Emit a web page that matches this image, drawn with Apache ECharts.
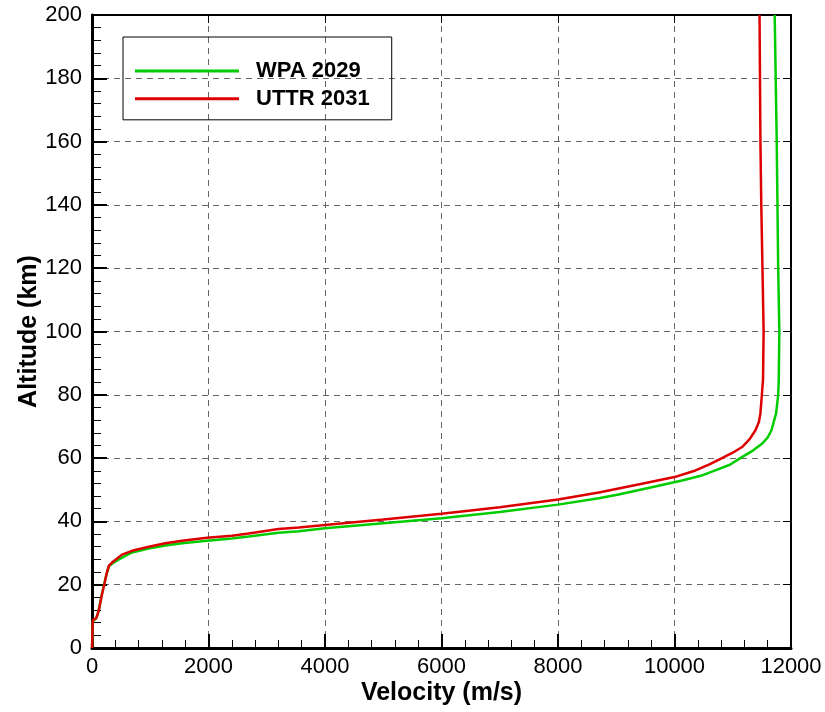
<!DOCTYPE html>
<html>
<head>
    <title>Velocity vs Altitude</title>
    <script src="https://cdn.jsdelivr.net/npm/echarts@6.0.0/dist/echarts.min.js"></script>
    <style>
        body { margin: 0; background: #fff; }
        #chart { width: 825px; height: 712px; }
    </style>
</head>
<body>
    <div id="chart"></div>
    <script>
        // velocity (m/s), altitude (km)
        const wpaVel = [0, 15, 70, 110, 170, 210, 250, 290, 343, 460, 687, 973, 1260, 1545, 1975, 2400, 2690, 3200, 3550, 4000, 5000, 6000, 7000, 8000, 8700, 9040, 9610, 10130, 10450, 10700, 10950, 11130, 11330, 11500, 11600, 11665, 11745, 11780, 11790, 11800, 11780, 11755, 11720];
        const wpaAlt = [0, 8.5, 9.3, 11.5, 17, 20.2, 23.4, 25.8, 26.6, 28.0, 30.2, 31.4, 32.4, 33.1, 33.9, 34.6, 35.2, 36.4, 36.9, 37.8, 39.4, 41.0, 43.0, 45.3, 47.3, 48.5, 50.8, 52.9, 54.4, 56.1, 57.9, 60, 62.2, 64.5, 66.5, 68.8, 74.2, 80, 85, 100, 120, 160, 200];

        const uttrVel = [0, 15, 75, 115, 172, 212, 250, 290, 343, 515, 687, 973, 1260, 1545, 1975, 2400, 2690, 3200, 3550, 4000, 5000, 6000, 7000, 8000, 8700, 9040, 9440, 10000, 10360, 10600, 10815, 11000, 11160, 11290, 11390, 11450, 11475, 11500, 11520, 11530, 11510, 11490, 11475, 11460];
        const uttrAlt = [0, 8.8, 9.5, 11.7, 17, 20.2, 23.4, 26.0, 27.0, 29.5, 30.7, 32.0, 33.1, 33.9, 34.8, 35.5, 36.2, 37.6, 38.1, 38.9, 40.6, 42.4, 44.5, 46.9, 49.1, 50.4, 51.9, 54, 56.1, 58.0, 60, 61.7, 63.5, 66.0, 68.8, 71.5, 74.2, 80, 85, 100, 120, 140, 160, 200];

        const xTicks = { min: 0, max: 12000, step: 2000 };
        const yTicks = { min: 0, max: 200, step: 20 };

        const font = "'Liberation Sans', Arial, sans-serif";
        const zip = (a, b) => a.map((v, i) => [v, b[i]]);
        const plain = v => String(v);

        const chart = echarts.init(document.getElementById('chart'));

        const dashGrid = { show: true, lineStyle: { color: '#666', type: [6, 5], width: 1 } };
        const nameStyle = { fontFamily: font, fontSize: 25, fontWeight: 'bold', color: '#000' };
        const labelStyle = { fontFamily: font, fontSize: 22, color: '#000', formatter: plain };

        chart.setOption({
            animation: false,
            backgroundColor: '#fff',
            grid: { left: 92, right: 34, top: 15, bottom: 64, outerBoundsMode: 'none', containLabel: false },
            legend: {
                orient: 'vertical',
                left: 123, top: 37,
                padding: [15, 22, 2, 12],
                icon: 'rect',
                itemWidth: 104, itemHeight: 3, itemGap: -10,
                borderColor: '#000', borderWidth: 1,
                textStyle: { fontFamily: font, fontSize: 22, fontWeight: 'bold', color: '#000', padding: [0, 0, 0, 12] },
                data: ['WPA 2029', 'UTTR 2031']
            },
            xAxis: [{
                type: 'value', min: xTicks.min, max: xTicks.max, interval: xTicks.step,
                name: 'Velocity (m/s)', nameLocation: 'middle', nameGap: 24, nameMoveOverlap: false,
                nameTextStyle: nameStyle,
                axisLine: { onZero: false, lineStyle: { color: '#000', width: 3 } },
                axisTick: { inside: true, length: 14, lineStyle: { color: '#000', width: 2 } },
                minorTick: { show: true, splitNumber: 5, length: 8, lineStyle: { color: '#000', width: 1 } },
                axisLabel: Object.assign({ margin: 0 }, labelStyle),
                splitLine: dashGrid
            }, {
                type: 'value', position: 'top', min: xTicks.min, max: xTicks.max, interval: xTicks.step,
                axisLine: { onZero: false, lineStyle: { color: '#000', width: 2 } },
                axisTick: { inside: true, length: 8, lineStyle: { color: '#000', width: 1 } },
                axisLabel: { show: false },
                splitLine: { show: false }
            }],
            yAxis: [{
                type: 'value', min: yTicks.min, max: yTicks.max, interval: yTicks.step,
                name: 'Altitude (km)', nameLocation: 'middle', nameGap: 41, nameMoveOverlap: false,
                nameTextStyle: nameStyle,
                axisLine: { onZero: false, lineStyle: { color: '#000', width: 3 } },
                axisTick: { inside: true, length: 15, lineStyle: { color: '#000', width: 2 } },
                minorTick: { show: true, splitNumber: 5, length: 9, lineStyle: { color: '#000', width: 1 } },
                axisLabel: Object.assign({ margin: 10 }, labelStyle),
                splitLine: dashGrid
            }, {
                type: 'value', position: 'right', min: yTicks.min, max: yTicks.max, interval: yTicks.step,
                axisLine: { onZero: false, lineStyle: { color: '#000', width: 2 } },
                axisTick: { inside: true, length: 8, lineStyle: { color: '#000', width: 1 } },
                axisLabel: { show: false },
                splitLine: { show: false }
            }],
            series: [{
                name: 'WPA 2029', type: 'line', showSymbol: false, symbol: 'none',
                data: zip(wpaVel, wpaAlt),
                lineStyle: { color: '#00cc00', width: 2.5 },
                itemStyle: { color: '#00cc00' }
            }, {
                name: 'UTTR 2031', type: 'line', showSymbol: false, symbol: 'none',
                data: zip(uttrVel, uttrAlt),
                lineStyle: { color: '#dd0000', width: 2.5 },
                itemStyle: { color: '#dd0000' }
            }]
        });
    </script>
</body>
</html>
